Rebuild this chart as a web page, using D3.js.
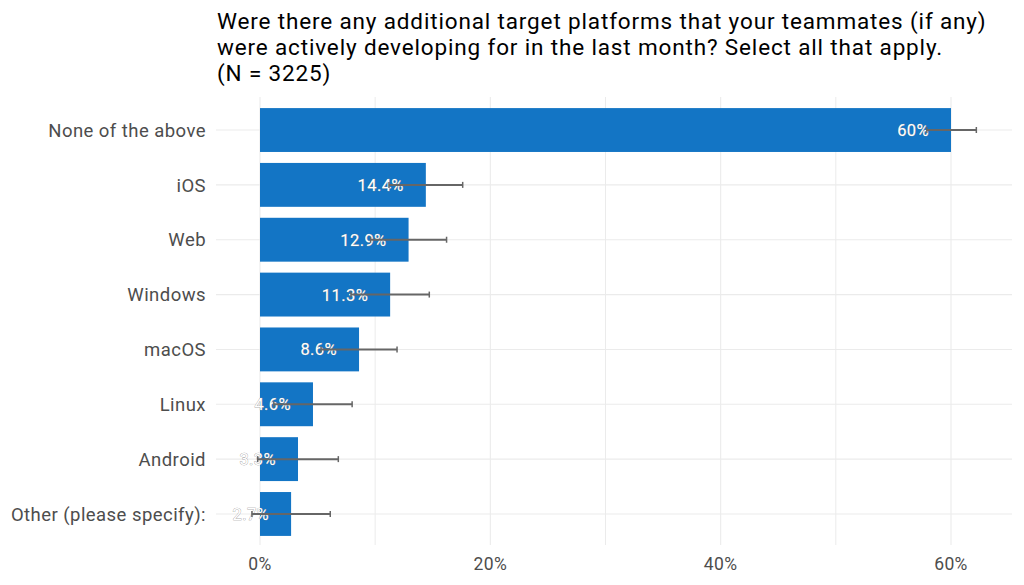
<!DOCTYPE html>
<html><head><meta charset="utf-8">
<script src="https://cdn.jsdelivr.net/npm/d3@7"></script>
<style>body{margin:0;background:#fff;} svg{display:block;font-family:Roboto,"Noto Sans",sans-serif;}</style>
</head><body>
<svg id="c" width="1024" height="585"></svg>
<script>
const categories = ["None of the above","iOS","Web","Windows","macOS","Linux","Android","Other (please specify):"];
const values = [60, 14.4, 12.9, 11.3, 8.6, 4.6, 3.3, 2.7];
const lowers = [57.9, 11.2, 9.6, 7.9, 5.3, 1.2, -0.2, -0.7];
const uppers = [62.2, 17.6, 16.2, 14.7, 11.9, 8.0, 6.8, 6.1];
const valueLabels = ["60%","14.4%","12.9%","11.3%","8.6%","4.6%","3.3%","2.7%"];
const majorTicks = [0, 20, 40, 60];
const minorTicks = [10, 30, 50];
const titleLines = ["Were there any additional target platforms that your teammates (if any)","were actively developing for in the last month? Select all that apply.","(N = 3225)"];

const svg = d3.select("#c");
const x = d3.scaleLinear().domain([0, 60]).range([260, 951]);
const y = d3.scalePoint().domain(categories).range([102.6, 541.4]).padding(0.5);
const step = y.step();
const bh = step * 0.8;
const pLeft = 216, pRight = 1012, pTop = 97, pBottom = 545;

// gridlines
const g = svg.append("g");
g.selectAll("line.minor").data(minorTicks).join("line")
  .attr("x1", d => x(d)).attr("x2", d => x(d)).attr("y1", pTop).attr("y2", pBottom)
  .attr("stroke", "#ebebeb").attr("stroke-width", 1);
g.selectAll("line.major").data(majorTicks).join("line")
  .attr("x1", d => x(d)).attr("x2", d => x(d)).attr("y1", pTop).attr("y2", pBottom)
  .attr("stroke", "#ebebeb").attr("stroke-width", 1.1);
g.selectAll("line.h").data(categories).join("line")
  .attr("x1", pLeft).attr("x2", pRight).attr("y1", d => y(d)).attr("y2", d => y(d))
  .attr("stroke", "#ebebeb").attr("stroke-width", 1.1);

// bars
svg.append("g").selectAll("rect").data(categories).join("rect")
  .attr("x", x(0)).attr("y", d => y(d) - bh/2)
  .attr("width", (d,i) => x(values[i]) - x(0)).attr("height", bh)
  .attr("fill", "#1375c5");

// value labels
svg.append("g").selectAll("text").data(categories).join("text")
  .attr("x", (d,i) => x(values[i]) - 22).attr("y", d => y(d)).attr("dy", "0.36em")
  .attr("text-anchor", "end").attr("font-size", 16.5).attr("letter-spacing", 0.4)
  .attr("fill", "#fff").attr("stroke", "#8c8c8c").attr("stroke-width", 0.6)
  .attr("paint-order", "stroke")
  .text((d,i) => valueLabels[i]);

// error bars
const eb = svg.append("g").attr("stroke", "#666").attr("stroke-width", 2);
categories.forEach((c,i) => {
  eb.append("line").attr("x1", x(lowers[i])).attr("x2", x(uppers[i])).attr("y1", y(c)).attr("y2", y(c));
  eb.append("line").attr("x1", x(lowers[i])).attr("x2", x(lowers[i])).attr("y1", y(c)-3).attr("y2", y(c)+3).attr("stroke-width", 1.5);
  eb.append("line").attr("x1", x(uppers[i])).attr("x2", x(uppers[i])).attr("y1", y(c)-3).attr("y2", y(c)+3).attr("stroke-width", 1.5);
});

// y axis labels
svg.append("g").selectAll("text").data(categories).join("text")
  .attr("x", 206).attr("y", d => y(d)).attr("dy", "0.36em")
  .attr("text-anchor", "end").attr("font-size", 18.5).attr("letter-spacing", 0.45).attr("fill", "#4d4d4d")
  .text(d => d);

// x axis labels
svg.append("g").selectAll("text").data(majorTicks).join("text")
  .attr("x", d => x(d)).attr("y", 570)
  .attr("text-anchor", "middle").attr("font-size", 17.5).attr("letter-spacing", 0.4).attr("fill", "#4d4d4d")
  .text(d => d + "%");

// title
svg.append("g").selectAll("text").data(titleLines).join("text")
  .attr("x", 217).attr("y", (d,i) => 28.5 + i*26.3)
  .attr("font-size", 22.5).attr("letter-spacing", 0.85).attr("fill", "#000")
  .text(d => d);
</script>
</body></html>
